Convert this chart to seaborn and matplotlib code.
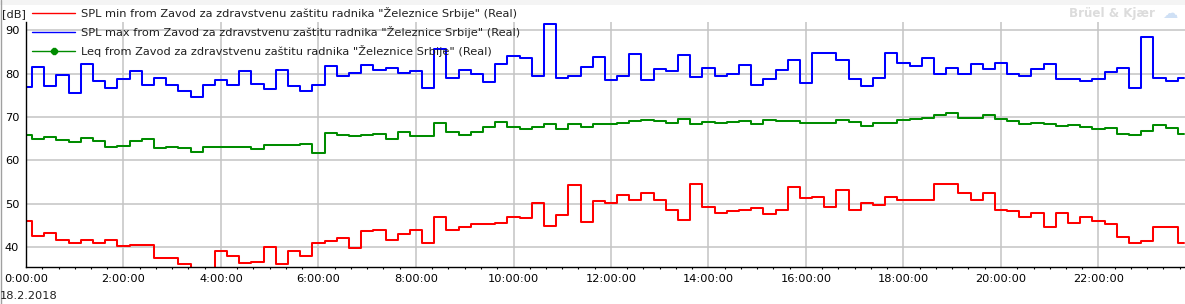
import numpy as np
import pandas as pd
import seaborn as sns
import matplotlib
matplotlib.use("Agg")
import matplotlib.pyplot as plt
from matplotlib.lines import Line2D
from matplotlib.patches import Rectangle
from matplotlib.legend_handler import HandlerLine2D
from matplotlib.ticker import FixedLocator, MultipleLocator, NullFormatter

# ---- data (15-min values, 18.2.2018) ----
spl_min = [46.0, 42.5, 43.4, 41.6, 40.9, 41.8, 41.1, 41.6, 40.2, 40.5, 40.5, 37.5, 37.5, 36.1, 35.0, 35.0,
           39.1, 37.9, 36.3, 36.6, 40.0, 36.1, 39.1, 37.9, 40.9, 41.4, 42.1, 39.8, 43.7, 43.9, 41.8, 43.0,
           44.1, 40.9, 46.9, 43.9, 44.6, 45.3, 45.3, 45.5, 47.1, 46.7, 50.1, 44.8, 47.4, 54.3, 45.8, 50.6,
           50.1, 52.0, 50.8, 52.4, 51.0, 48.5, 46.2, 54.5, 49.4, 48.0, 48.3, 48.7, 49.0, 47.6, 48.7, 54.0,
           51.3, 51.7, 49.4, 53.1, 48.7, 50.1, 49.7, 51.5, 50.8, 50.8, 50.8, 54.5, 54.5, 52.4, 50.8, 52.6,
           48.5, 48.3, 46.9, 48.0, 44.6, 48.0, 45.5, 47.1, 46.0, 45.3, 42.3, 41.1, 41.4, 44.6, 44.6, 41.1]
spl_max = [76.9, 81.5, 77.1, 79.7, 75.5, 82.2, 78.4, 76.7, 78.7, 80.6, 77.4, 79.0, 77.4, 76.1, 74.6, 77.4,
           78.5, 77.4, 80.6, 77.6, 76.4, 80.8, 77.1, 76.1, 77.4, 81.7, 79.4, 80.2, 82.0, 80.8, 81.3, 80.2,
           80.6, 76.7, 85.7, 79.0, 80.8, 80.0, 78.1, 82.2, 84.0, 83.6, 79.4, 91.4, 79.0, 79.4, 81.5, 83.8,
           78.5, 79.4, 84.5, 78.5, 81.0, 80.6, 84.3, 79.2, 81.3, 79.4, 79.9, 82.0, 77.4, 78.7, 80.8, 83.1,
           77.8, 84.7, 84.7, 83.1, 78.7, 77.1, 79.0, 84.7, 82.4, 81.7, 83.6, 79.9, 81.3, 79.9, 82.2, 81.0,
           82.4, 79.9, 79.4, 81.0, 82.2, 78.7, 78.7, 78.3, 78.7, 80.3, 81.3, 76.7, 88.4, 79.0, 78.3, 79.0]
leq = [65.9, 64.9, 65.4, 64.7, 64.3, 65.2, 64.5, 63.1, 63.3, 64.5, 64.9, 62.9, 63.1, 62.9, 62.0, 63.1,
       63.1, 63.1, 63.1, 62.6, 63.6, 63.6, 63.6, 63.8, 61.7, 66.3, 65.9, 65.6, 65.9, 66.1, 64.9, 66.6,
       65.6, 65.6, 68.6, 66.6, 65.9, 66.6, 67.7, 68.9, 67.7, 67.2, 67.7, 68.4, 67.2, 68.4, 67.7, 68.4,
       68.4, 68.6, 69.1, 69.3, 69.1, 68.6, 69.5, 68.4, 68.9, 68.6, 68.9, 69.1, 68.4, 69.3, 69.1, 69.1,
       68.6, 68.6, 68.6, 69.3, 68.9, 67.9, 68.6, 68.6, 69.3, 69.5, 69.8, 70.5, 70.9, 69.8, 69.8, 70.5,
       69.5, 69.1, 68.4, 68.6, 68.4, 67.9, 68.2, 67.7, 67.2, 67.5, 66.1, 65.9, 66.8, 68.2, 67.5, 66.1]
hours = np.arange(96) * 0.25
series_labels = [
    'SPL min from Zavod za zdravstvenu zaštitu radnika "Železnice Srbije" (Real)',
    'SPL max from Zavod za zdravstvenu zaštitu radnika "Železnice Srbije" (Real)',
    'Leq from Zavod za zdravstvenu zaštitu radnika "Železnice Srbije" (Real)',
]
series_colors = ["#ff0000", "#0000ff", "#008c00"]
x_ticks = list(range(0, 24, 2))
x_tick_labels = ["0:00:00", "2:00:00", "4:00:00", "6:00:00", "8:00:00", "10:00:00",
                 "12:00:00", "14:00:00", "16:00:00", "18:00:00", "20:00:00", "22:00:00"]
y_ticks = [40, 50, 60, 70, 80, 90]
date_label = "18.2.2018"
unit_label = "[dB]"

df = pd.DataFrame({"t": np.tile(hours, 3),
                   "value": spl_min + spl_max + leq,
                   "series": np.repeat(series_labels, 96)})

sns.set_style("white")
plt.rcParams["font.family"] = ["DejaVu Sans"]
FS = 8.2

W, H = 1185, 304
fig = plt.figure(figsize=(W / 100, H / 100), dpi=100)
ax = fig.add_axes([26 / W, 1 - 267.3 / H, (W - 26) / W, (267.3 - 22) / H])

for lab, col in zip(series_labels, series_colors):
    sub = df[df["series"] == lab]
    sns.lineplot(data=sub, x="t", y="value", ax=ax, color=col, linewidth=1.45,
                 drawstyle="steps-mid", estimator=None, legend=False)

ax.set_xlim(0, (W - 26) / 48.75)
ax.set_ylim(35.4, 91.9)
ax.set_xlabel("")
ax.set_ylabel("")

ax.xaxis.set_major_locator(FixedLocator(x_ticks))
ax.set_xticklabels(x_tick_labels, fontsize=FS)
ax.xaxis.set_minor_locator(MultipleLocator(1 / 3))
ax.xaxis.set_minor_formatter(NullFormatter())
ax.set_yticks(y_ticks)
ax.set_yticklabels([str(v) for v in y_ticks], fontsize=FS)

ax.grid(True, which="major", color="#c4c4c4", linewidth=1.1)
ax.set_axisbelow(True)
for s in ["top", "right"]:
    ax.spines[s].set_visible(False)
for s in ["left", "bottom"]:
    ax.spines[s].set_color("black")
    ax.spines[s].set_linewidth(1.0)
ax.tick_params(axis="x", which="major", direction="out", length=3.2, width=0.8, color="black", pad=1.6, labelcolor="black")
ax.tick_params(axis="x", which="minor", direction="out", length=1.6, width=0.8, color="black", bottom=True)
ax.tick_params(axis="y", which="major", direction="out", length=4.2, width=0.8, color="black", pad=0.6, labelcolor="black")


class LeftMarker(HandlerLine2D):
    def get_xdata(self, legend, xdescent, ydescent, width, height, fontsize):
        return [-xdescent, -xdescent + width], [-xdescent]


fs_px = FS * 100 / 72
handles = [Line2D([], [], color=series_colors[0], lw=1.0),
           Line2D([], [], color=series_colors[1], lw=1.0),
           Line2D([], [], color=series_colors[2], lw=1.0, marker="8", markersize=5)]
leg = ax.legend(handles, series_labels, loc="upper left",
                bbox_to_anchor=(32 / W, 1 - 7.0 / H), bbox_transform=fig.transFigure,
                frameon=False, fontsize=FS, borderpad=0, borderaxespad=0,
                handlelength=43 / fs_px, handletextpad=6 / fs_px, labelspacing=0.62,
                handler_map={handles[2]: LeftMarker()})
for t in leg.get_texts():
    t.set_color("#202020")

fig.text(2 / W, 1 - 13.7 / H, unit_label, fontsize=FS, va="center", ha="left", color="#202020")
fig.text(0 / W, 1 - 296 / H, date_label, fontsize=FS, va="center", ha="left", color="#202020")
fig.text(1155 / W, 1 - 13.5 / H, "Brüel & Kjær", fontsize=8.6, fontweight="bold", color="#dcdcdc",
         va="center", ha="right")
fig.text(1170 / W, 1 - 13.5 / H, "\u2601", fontsize=11, color="#cfe0f5", va="center", ha="center")
fig.patches.append(Rectangle((0, 1 - 5 / H), 1, 5 / H, transform=fig.transFigure,
                             facecolor="#f4f4f4", edgecolor="none", zorder=-1))
fig.lines.append(Line2D([0.5 / W, 0.5 / W], [0, 1], transform=fig.transFigure, color="#a0a0a0", lw=1))

fig.savefig("out.png", dpi=100)
